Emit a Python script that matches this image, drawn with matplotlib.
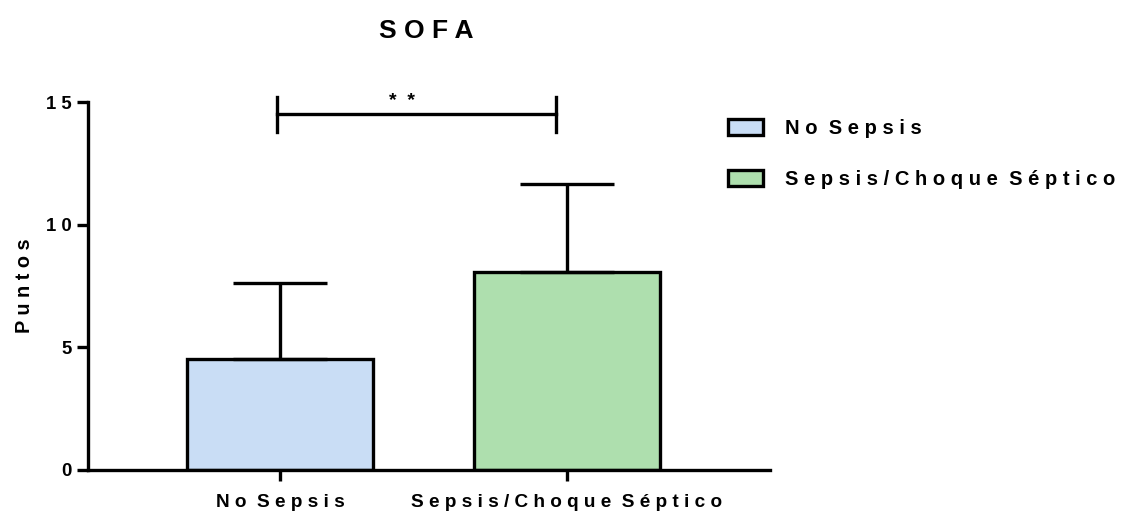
import matplotlib.pyplot as plt
import numpy as np
from matplotlib.patches import Patch

plt.rcParams['font.family'] = ['Liberation Sans', 'DejaVu Sans']
plt.rcParams['font.weight'] = 'bold'

groups = ['No Sepsis', 'Sepsis/Choque Séptico']
means = [4.52, 8.07]
sd = [3.11, 3.59]
colors = ['#c9ddf5', '#aedfae']
yticks = [0, 5, 10, 15]
sig_y = 14.5
sig_label = '*  *'


def spaced(s):
    # imita el espaciado amplio entre letras del original
    return ' '.join(s).replace('   ', '  ')


fig = plt.figure(figsize=(11.27, 5.21), dpi=100)
ax = fig.add_axes([0.078, 0.098, 0.605, 0.706])

x = np.arange(len(groups))
ax.bar(x, means, width=0.65, color=colors, edgecolor='black', linewidth=2.4, zorder=2)
# solo la parte superior de la barra de error con su tope
ax.errorbar(x, means, yerr=[[0, 0], sd], fmt='none', ecolor='black',
            elinewidth=2.4, capsize=34, capthick=2.4, zorder=3)

ax.set_xlim(-0.669, 1.707)
ax.set_ylim(0, 15)
ax.set_yticks(yticks)
ax.set_yticklabels([spaced(str(t)) for t in yticks], fontsize=13.4, fontweight='bold')
ax.set_xticks(x)
ax.set_xticklabels([spaced(g) for g in groups], fontsize=13.7, fontweight='bold')
ax.tick_params(axis='both', width=2.4, length=8, direction='out')
ax.tick_params(axis='x', pad=9)
for side in ['top', 'right']:
    ax.spines[side].set_visible(False)
for side in ['left', 'bottom']:
    ax.spines[side].set_linewidth(2.4)
ax.set_ylabel(spaced('Puntos'), fontsize=14.3, fontweight='bold', labelpad=9)

# corchete de significancia
x0, x1 = -0.01, 0.962
ax.plot([x0, x1], [sig_y, sig_y], color='black', lw=2.4, clip_on=False)
ax.plot([x0, x0], [sig_y - 0.7, sig_y + 0.7], color='black', lw=2.4, clip_on=False)
ax.plot([x1, x1], [sig_y - 0.7, sig_y + 0.7], color='black', lw=2.4, clip_on=False)
ax.text(0.425, 14.85, sig_label, ha='center', va='baseline',
        fontsize=14, fontweight='bold', clip_on=False)

fig.text(0.378, 0.928, spaced('SOFA'), ha='center', va='baseline', fontsize=19, fontweight='bold')

handles = [Patch(facecolor=c, edgecolor='black', linewidth=2.4) for c in colors]
fig.legend(handles, [spaced(g) for g in groups], loc='upper left', bbox_to_anchor=(0.6297, 0.806),
           frameon=False, prop={'weight': 'bold', 'size': 14.5},
           handlelength=1.75, handleheight=0.8, labelspacing=1.57, handletextpad=1.1)

fig.savefig('out.png', dpi=100)
